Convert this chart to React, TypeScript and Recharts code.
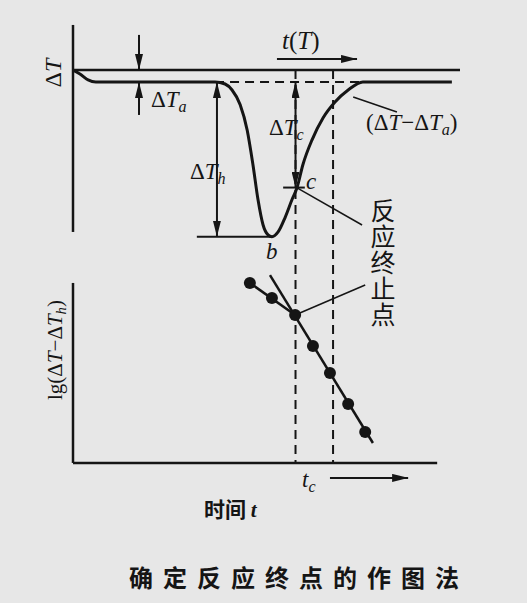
import { ComposedChart, Line, ReferenceLine, Scatter, XAxis, YAxis } from "recharts";

// time axis t (arbitrary units), top panel ΔT, bottom panel lg(ΔT-ΔTh)
const dtaCurve = [
  { t: 0, dt: 0 }, { t: 1.8, dt: -0.33 }, { t: 3.9, dt: -0.83 }, { t: 5.9, dt: -1 },
  { t: 36.7, dt: -1 }, { t: 39.3, dt: -1.17 }, { t: 41.1, dt: -1.67 }, { t: 43.2, dt: -2.9 },
  { t: 45, dt: -5 }, { t: 46.5, dt: -7.9 }, { t: 47.8, dt: -10.8 }, { t: 49.1, dt: -12.9 },
  { t: 50.4, dt: -13.75 }, { t: 51.4, dt: -13.9 }, { t: 53, dt: -13.5 }, { t: 54.8, dt: -12.3 },
  { t: 56.6, dt: -10.8 }, { t: 57.9, dt: -9.8 }, { t: 59.4, dt: -7.9 }, { t: 61.8, dt: -5.8 },
  { t: 64.6, dt: -4 }, { t: 67.7, dt: -2.67 }, { t: 71.1, dt: -1.67 }, { t: 74.9, dt: -1 },
  { t: 97.9, dt: -1 },
];

const lgPoints = [
  { t: 45.7, lg: 10 }, { t: 51.4, lg: 9.17 }, { t: 57.4, lg: 8.22 }, { t: 62, lg: 6.5 },
  { t: 66.4, lg: 5 }, { t: 71.1, lg: 3.28 }, { t: 75.5, lg: 1.72 },
];
const lgEarlyFit = [{ t: 45.7, lg: 10 }, { t: 57.4, lg: 8.22 }];
const lgLateFit = [{ t: 50.9, lg: 10.44 }, { t: 77.5, lg: 1.11 }];

const T_C = 57.5;
const T_2 = 67.2;
const DT_A = -1;
const DT_H = -13.9;
const DT_C = -9.8;

const W = 527;
const H = 603;
const INK = "#151515";
const DT_DOMAIN = [-44.42, 5.83];
const LG_DOMAIN = [-7.78, 25.72];
const DT_AT_LG0 = -44.42 + 140 / 12; // where the bottom x axis sits on the ΔT scale

const serif = '"Liberation Serif", "DejaVu Serif", serif';
const cjk = '"Noto Sans CJK SC", sans-serif';

type Opt = { w?: number; dash?: string; start?: boolean; end?: boolean };

function seg(key: string, axis: string, a: [number, number], b: [number, number], o: Opt = {}) {
  return (
    <ReferenceLine
      key={key}
      yAxisId={axis}
      ifOverflow="visible"
      segment={[{ x: a[0], y: a[1] }, { x: b[0], y: b[1] }]}
      shape={(p: any) => (
        <line
          x1={p.x1}
          y1={p.y1}
          x2={p.x2}
          y2={p.y2}
          stroke={INK}
          strokeWidth={o.w ?? 2}
          strokeDasharray={o.dash}
          markerStart={o.start ? "url(#arr)" : undefined}
          markerEnd={o.end ? "url(#arr)" : undefined}
        />
      )}
    />
  );
}

function Txt({ x, y, size = 22, rot, bold, font = serif, children }: any) {
  return (
    <div
      style={{
        position: "absolute",
        left: x,
        top: y,
        fontSize: size,
        fontFamily: font,
        fontWeight: bold ? 700 : 400,
        lineHeight: 1,
        whiteSpace: "nowrap",
        color: INK,
        transform: rot ? "translate(-50%,-50%) rotate(-90deg)" : undefined,
      }}
    >
      {children}
    </div>
  );
}

const sub = { fontSize: "0.7em", fontStyle: "italic", verticalAlign: "-0.3em" } as const;

export default function App() {
  return (
    <div style={{ position: "relative", width: W, height: H, background: "#e7e7e7", overflow: "hidden" }}>
      <style>{"body{margin:0}"}</style>
      <ComposedChart width={W} height={H} margin={{ top: 0, right: 67, bottom: 0, left: 73 }} style={{ position: "absolute", left: 0, top: 0 }}>
        <defs>
          <marker id="arr" viewBox="0 0 16 8" refX="16" refY="4" markerWidth="16" markerHeight="8" markerUnits="userSpaceOnUse" orient="auto-start-reverse">
            <path d="M0,0 L16,4 L0,8 z" fill={INK} />
          </marker>
        </defs>
        <XAxis type="number" dataKey="t" domain={[0, 100]} allowDataOverflow hide />
        <YAxis yAxisId="dt" type="number" domain={DT_DOMAIN} allowDataOverflow hide />
        <YAxis yAxisId="lg" type="number" domain={LG_DOMAIN} allowDataOverflow hide />

        {/* top panel */}
        {seg("ay", "dt", [0, 3.75], [0, -13.5], { w: 2.5 })}
        {seg("base", "dt", [0, 0], [100, 0], { w: 2.5 })}
        {seg("dta", "dt", [36.7, DT_A], [74.9, DT_A], { dash: "9 6" })}
        {seg("hline", "dt", [32, DT_H], [51.4, DT_H])}
        {seg("ctick", "dt", [54.3, DT_C], [59.9, DT_C])}
        {seg("dTa1", "dt", [17.05, 2.92], [17.05, 0], { end: true })}
        {seg("dTa2", "dt", [17.05, -3.75], [17.05, DT_A], { end: true })}
        {seg("dTh", "dt", [37.2, DT_A], [37.2, DT_H], { start: true, end: true })}
        {seg("dTc", "dt", [T_C, DT_A], [T_C, DT_C], { start: true, end: true })}
        {seg("tT", "dt", [52.7, 0.92], [73.4, 0.92], { end: true })}
        {seg("lead1", "dt", [72.4, -2.25], [83.7, -3.5], { w: 1.5 })}
        {seg("lead2", "dt", [57.9, -9.83], [74.7, -12.92], { w: 1.5 })}
        {seg("vc", "dt", [T_C, 0], [T_C, DT_AT_LG0], { dash: "9 6" })}
        {seg("v2", "dt", [T_2, 0], [T_2, DT_AT_LG0], { dash: "9 6" })}

        {/* bottom panel */}
        {seg("by", "lg", [0, 10], [0, 0], { w: 2.5 })}
        {seg("bx", "lg", [0, 0], [94.1, 0], { w: 2.5 })}
        {seg("lead3", "lg", [57.4, 8.22], [75.5, 9.89], { w: 1.5 })}
        {seg("tcArrow", "lg", [66.4, -0.83], [86.6, -0.83], { end: true })}

        <Line yAxisId="dt" data={dtaCurve} dataKey="dt" type="monotone" stroke={INK} strokeWidth={3} dot={false} isAnimationActive={false} />
        <Line yAxisId="lg" data={lgEarlyFit} dataKey="lg" type="linear" stroke={INK} strokeWidth={2.5} dot={false} isAnimationActive={false} />
        <Line yAxisId="lg" data={lgLateFit} dataKey="lg" type="linear" stroke={INK} strokeWidth={2.5} dot={false} isAnimationActive={false} />
        <Scatter
          yAxisId="lg"
          data={lgPoints}
          dataKey="lg"
          isAnimationActive={false}
          shape={(p: any) => <circle cx={p.cx} cy={p.cy} r={6} fill={INK} />}
        />
      </ComposedChart>

      <Txt x={53} y={73} size={24} rot>
        Δ<i>T</i>
      </Txt>
      <Txt x={151} y={88} size={23}>
        Δ<i>T</i><span style={sub}>a</span>
      </Txt>
      <Txt x={282} y={28} size={25}>
        <i>t</i>(<i>T</i>)
      </Txt>
      <Txt x={269} y={116} size={23}>
        Δ<i>T</i><span style={sub}>c</span>
      </Txt>
      <Txt x={366} y={111} size={23}>
        (Δ<i>T</i>−Δ<i>T</i><span style={sub}>a</span>)
      </Txt>
      <Txt x={190} y={160} size={23}>
        Δ<i>T</i><span style={sub}>h</span>
      </Txt>
      <Txt x={306} y={170} size={23}>
        <i>c</i>
      </Txt>
      <Txt x={266} y={240} size={23}>
        <i>b</i>
      </Txt>
      <div
        style={{
          position: "absolute",
          left: 370,
          top: 198,
          fontFamily: cjk,
          fontSize: 25,
          lineHeight: 1,
          letterSpacing: 1,
          writingMode: "vertical-rl",
          color: INK,
        }}
      >
        反应终止点
      </div>
      <Txt x={57} y={350} size={21} rot>
        lg(Δ<i>T</i>−Δ<i>T</i><span style={sub}>h</span>)
      </Txt>
      <Txt x={302} y={468} size={23}>
        <i>t</i><span style={sub}>c</span>
      </Txt>
      <Txt x={204} y={498} size={21} font={cjk} bold>
        时间 <i style={{ fontFamily: serif }}>t</i>
      </Txt>
      <Txt x={129} y={565} size={24} font={cjk} bold>
        <span style={{ letterSpacing: 10 }}>确定反应终点的作图法</span>
      </Txt>
    </div>
  );
}
